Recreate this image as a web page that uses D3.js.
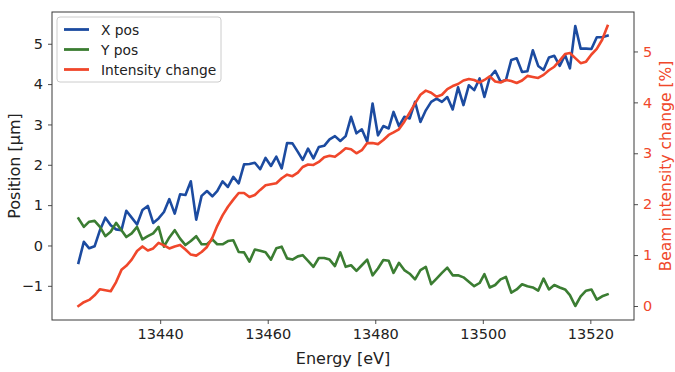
<!DOCTYPE html>
<html>
<head>
<meta charset="utf-8">
<script src="https://cdn.jsdelivr.net/npm/d3@7"></script>
<style>
  html, body { margin: 0; padding: 0; background: #fff; }
  svg { display: block; font-family: "DejaVu Sans", sans-serif; }
</style>
</head>
<body>
<svg id="chart" width="675" height="372"></svg>
<script>
// Scan energies [eV]
const energy = [
  13424.8, 13425.8, 13426.8, 13427.8, 13428.8, 13429.8, 13430.8, 13431.8, 13432.8, 13433.7,
  13434.7, 13435.7, 13436.7, 13437.7, 13438.7, 13439.7, 13440.7, 13441.7, 13442.7, 13443.7,
  13444.7, 13445.7, 13446.7, 13447.7, 13448.7, 13449.7, 13450.6, 13451.6, 13452.6, 13453.6,
  13454.6, 13455.6, 13456.6, 13457.6, 13458.6, 13459.6, 13460.6, 13461.6, 13462.6, 13463.6,
  13464.6, 13465.6, 13466.5, 13467.5, 13468.5, 13469.5, 13470.5, 13471.5, 13472.5, 13473.5,
  13474.5, 13475.5, 13476.5, 13477.5, 13478.5, 13479.5, 13480.5, 13481.5, 13482.5, 13483.4,
  13484.4, 13485.4, 13486.4, 13487.4, 13488.4, 13489.4, 13490.4, 13491.4, 13492.4, 13493.4,
  13494.4, 13495.4, 13496.4, 13497.4, 13498.4, 13499.4, 13500.3, 13501.3, 13502.3, 13503.3,
  13504.3, 13505.3, 13506.3, 13507.3, 13508.3, 13509.3, 13510.3, 13511.3, 13512.3, 13513.3,
  13514.3, 13515.3, 13516.2, 13517.2, 13518.2, 13519.2, 13520.2, 13521.2, 13522.2, 13523.2
];

// Beam X position [µm]
const xPos = [
  -0.43, 0.09, -0.07, -0.02, 0.38, 0.69, 0.50, 0.40, 0.38, 0.86,
  0.69, 0.52, 0.88, 0.98, 0.56, 0.67, 0.83, 1.15, 0.79, 1.27,
  1.25, 1.59, 0.64, 1.23, 1.35, 1.22, 1.35, 1.59, 1.45, 1.70,
  1.54, 2.01, 2.02, 2.05, 1.89, 2.17, 1.97, 2.20, 1.91, 2.54,
  2.53, 2.32, 2.12, 2.40, 2.16, 2.44, 2.47, 2.63, 2.71, 2.59,
  2.71, 3.19, 2.78, 2.88, 2.57, 3.52, 2.73, 2.96, 2.90, 3.31,
  2.96, 3.19, 3.15, 3.56, 3.06, 3.35, 3.56, 3.64, 3.56, 3.68,
  3.37, 3.92, 3.48, 3.97, 3.85, 4.14, 3.68, 4.17, 4.33, 4.06,
  4.10, 4.60, 4.64, 4.30, 4.32, 4.84, 4.45, 4.35, 4.66, 4.70,
  4.45, 4.72, 4.39, 5.44, 4.88, 4.88, 4.87, 5.16, 5.16, 5.20
];

// Beam Y position [µm]
const yPos = [
  0.67, 0.46, 0.59, 0.61, 0.46, 0.23, 0.34, 0.56, 0.38, 0.21,
  0.30, 0.46, 0.15, 0.23, 0.30, 0.46, -0.03, 0.20, 0.38, 0.17,
  0.01, 0.11, 0.23, 0.03, 0.03, 0.15, 0.03, 0.03, 0.11, 0.13,
  -0.16, -0.17, -0.40, -0.10, -0.13, -0.17, -0.35, -0.07, -0.03, -0.32,
  -0.35, -0.27, -0.24, -0.38, -0.53, -0.31, -0.31, -0.35, -0.51, -0.17,
  -0.53, -0.49, -0.63, -0.49, -0.35, -0.74, -0.57, -0.36, -0.38, -0.68,
  -0.43, -0.61, -0.70, -0.84, -0.61, -0.53, -0.96, -0.82, -0.68, -0.55,
  -0.74, -0.74, -0.79, -0.90, -1.01, -0.93, -0.71, -1.04, -0.98, -0.84,
  -0.78, -1.17, -1.09, -0.96, -1.01, -1.04, -1.12, -0.82, -1.09, -0.98,
  -1.04, -1.09, -1.23, -1.50, -1.26, -1.12, -1.09, -1.34, -1.26, -1.21
];

// Beam intensity change [%]
const intensity = [
  0.00, 0.075, 0.12, 0.21, 0.33, 0.31, 0.29, 0.47, 0.71, 0.79,
  0.91, 1.08, 1.17, 1.09, 1.13, 1.24, 1.19, 1.13, 1.17, 1.20,
  1.11, 1.01, 0.99, 1.06, 1.16, 1.34, 1.57, 1.78, 1.95, 2.09,
  2.22, 2.22, 2.14, 2.18, 2.28, 2.37, 2.39, 2.41, 2.51, 2.58,
  2.55, 2.62, 2.73, 2.78, 2.77, 2.83, 2.92, 2.95, 2.93, 3.01,
  3.10, 3.08, 3.00, 3.06, 3.20, 3.20, 3.18, 3.26, 3.36, 3.41,
  3.47, 3.62, 3.80, 3.98, 4.15, 4.23, 4.19, 4.11, 4.15, 4.26,
  4.32, 4.36, 4.43, 4.46, 4.44, 4.39, 4.44, 4.51, 4.41, 4.39,
  4.44, 4.42, 4.38, 4.43, 4.52, 4.50, 4.48, 4.54, 4.63, 4.70,
  4.82, 4.95, 4.97, 4.87, 4.77, 4.80, 4.94, 5.05, 5.23, 5.50
];

const xTicks = [13440, 13460, 13480, 13500, 13520];
const leftTicks = [-1, 0, 1, 2, 3, 4, 5];
const rightTicks = [0, 1, 2, 3, 4, 5];

const seriesNames = ["X pos", "Y pos", "Intensity change"];
const seriesColors = ["#1c4ba0", "#3b7d32", "#f0472b"];

const W = 675, H = 372;
const plot = { left: 52, right: 634, top: 12, bottom: 320 };
const frameColor = "#3a3a3a";
const minus = s => String(s).replace("-", "\u2212");

// 5% padding on each side of the data extent
function padded(ext) {
  const d = (ext[1] - ext[0]) * 0.05;
  return [ext[0] - d, ext[1] + d];
}

const x = d3.scaleLinear()
  .domain(padded(d3.extent(energy)))
  .range([plot.left, plot.right]);

const yLeft = d3.scaleLinear()
  .domain(padded([d3.min(xPos.concat(yPos)), d3.max(xPos.concat(yPos))]))
  .range([plot.bottom, plot.top]);

const yRight = d3.scaleLinear()
  .domain(padded(d3.extent(intensity)))
  .range([plot.bottom, plot.top]);

const svg = d3.select("#chart");

// Axes
function styleAxis(g, textColor) {
  g.select(".domain").remove();
  g.selectAll(".tick line").attr("stroke", frameColor).attr("stroke-width", 0.9);
  g.selectAll(".tick text")
    .attr("fill", textColor)
    .style("font-size", "14.5px")
    .style("font-family", "'DejaVu Sans', sans-serif");
}

svg.append("g")
  .attr("transform", `translate(0,${plot.bottom})`)
  .call(d3.axisBottom(x).tickValues(xTicks).tickSize(4).tickPadding(5).tickFormat(d3.format("d")))
  .call(g => styleAxis(g, "#222"));

svg.append("g")
  .attr("transform", `translate(${plot.left},0)`)
  .call(d3.axisLeft(yLeft).tickValues(leftTicks).tickSize(4).tickPadding(5).tickFormat(d => minus(d)))
  .call(g => styleAxis(g, "#222"));

svg.append("g")
  .attr("transform", `translate(${plot.right},0)`)
  .call(d3.axisRight(yRight).tickValues(rightTicks).tickSize(4).tickPadding(5).tickFormat(d3.format("d")))
  .call(g => styleAxis(g, seriesColors[2]));

// Series lines
const lineL = d3.line().x((d, i) => x(energy[i])).y(d => yLeft(d));
const lineR = d3.line().x((d, i) => x(energy[i])).y(d => yRight(d));

svg.append("clipPath").attr("id", "plotclip")
  .append("rect")
  .attr("x", plot.left).attr("y", plot.top)
  .attr("width", plot.right - plot.left).attr("height", plot.bottom - plot.top);

const lines = svg.append("g").attr("clip-path", "url(#plotclip)");
[[xPos, lineL, 0], [yPos, lineL, 1], [intensity, lineR, 2]].forEach(([data, gen, k]) => {
  lines.append("path")
    .datum(data)
    .attr("d", gen)
    .attr("fill", "none")
    .attr("stroke", seriesColors[k])
    .attr("stroke-width", 2.6)
    .attr("stroke-linejoin", "round")
    .attr("stroke-linecap", "square");
});

// Frame
svg.append("rect")
  .attr("x", plot.left).attr("y", plot.top)
  .attr("width", plot.right - plot.left).attr("height", plot.bottom - plot.top)
  .attr("fill", "none").attr("stroke", frameColor).attr("stroke-width", 1);

// Axis titles
svg.append("text")
  .attr("x", (plot.left + plot.right) / 2).attr("y", 364)
  .attr("text-anchor", "middle")
  .style("font-size", "16px").attr("fill", "#222")
  .text("Energy [eV]");

svg.append("text")
  .attr("transform", `translate(20,${(plot.top + plot.bottom) / 2}) rotate(-90)`)
  .attr("text-anchor", "middle")
  .style("font-size", "16px").attr("fill", "#222")
  .text("Position [µm]");

svg.append("text")
  .attr("transform", `translate(671,${(plot.top + plot.bottom) / 2}) rotate(-90)`)
  .attr("text-anchor", "middle")
  .style("font-size", "15.5px").attr("fill", seriesColors[2])
  .text("Beam intensity change [%]");

// Legend
const legend = svg.append("g").attr("transform", "translate(57,17)");
legend.append("rect")
  .attr("width", 164).attr("height", 65)
  .attr("rx", 3)
  .attr("fill", "#fff").attr("fill-opacity", 0.85)
  .attr("stroke", "#cccccc").attr("stroke-width", 1);
seriesNames.forEach((name, k) => {
  const yy = 12.5 + k * 20;
  legend.append("line")
    .attr("x1", 7).attr("x2", 32).attr("y1", yy).attr("y2", yy)
    .attr("stroke", seriesColors[k]).attr("stroke-width", 2.8);
  legend.append("text")
    .attr("x", 44).attr("y", yy)
    .attr("dominant-baseline", "central")
    .style("font-size", "13.8px").attr("fill", "#222")
    .text(name);
});
</script>
</body>
</html>
